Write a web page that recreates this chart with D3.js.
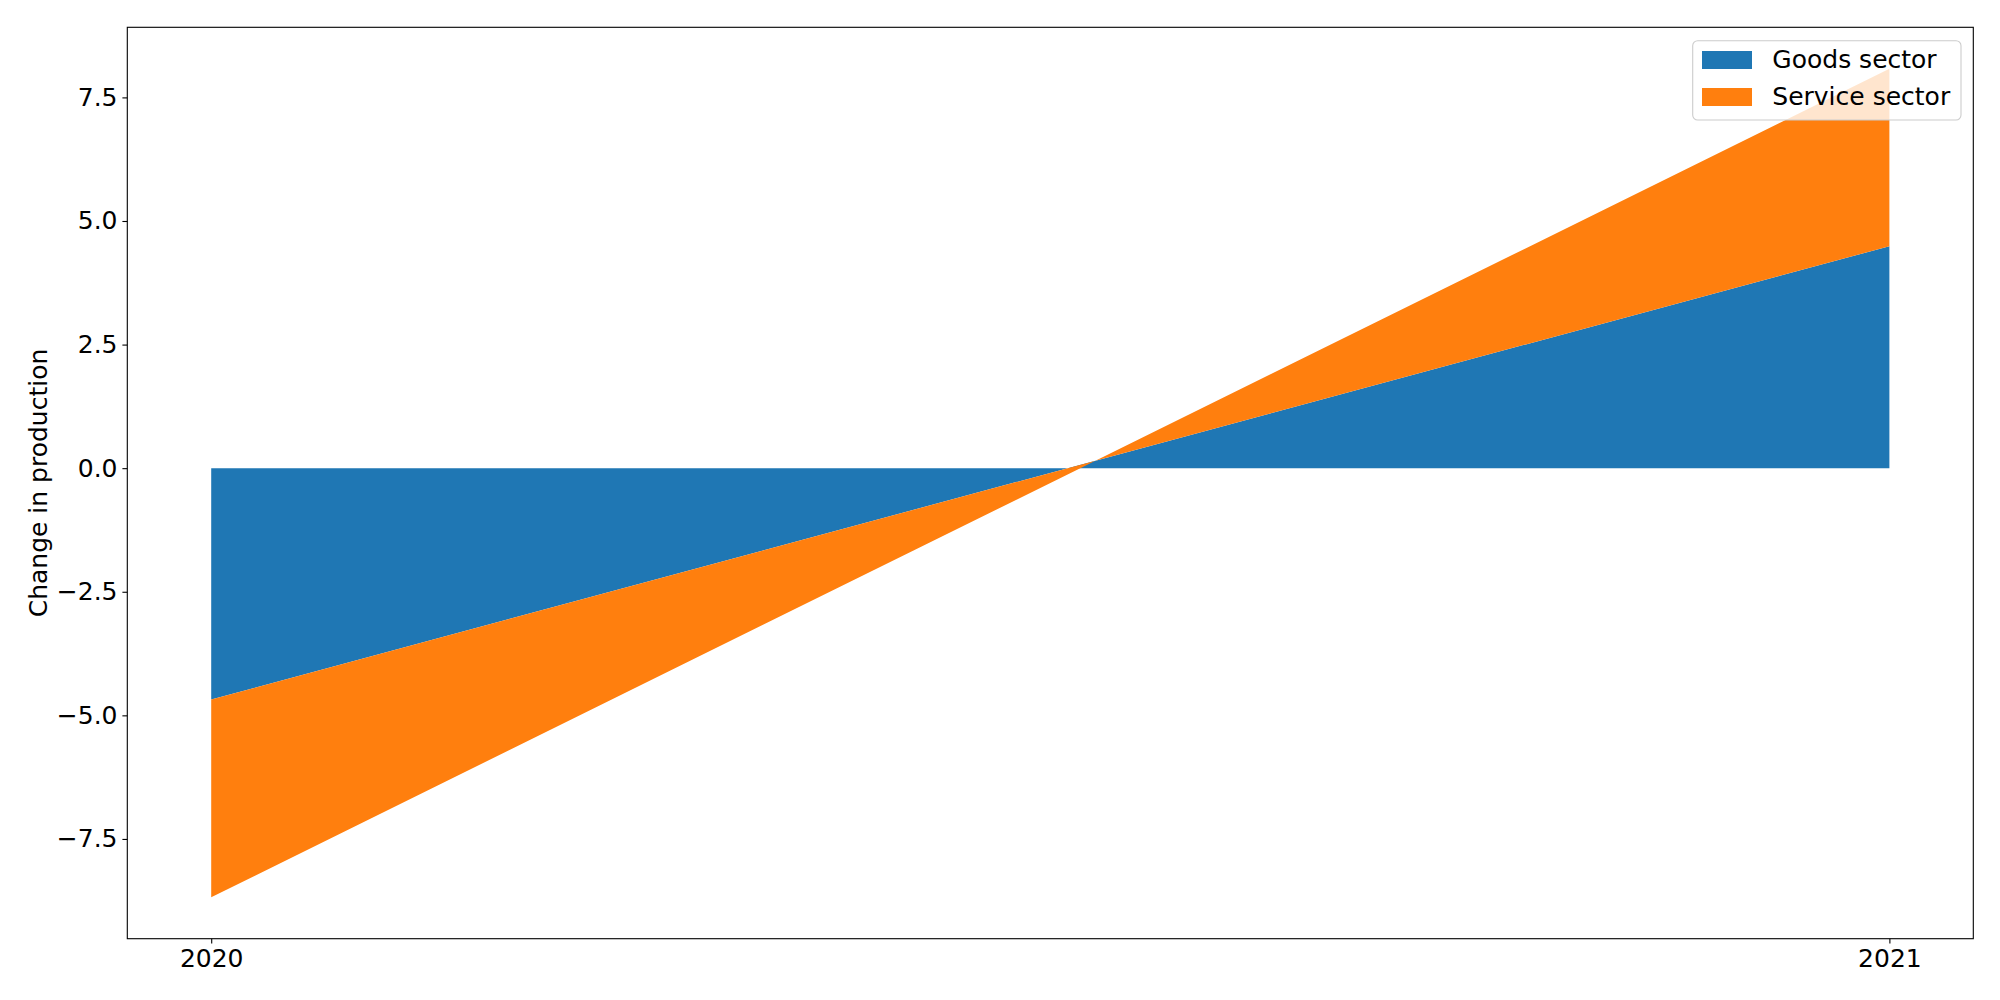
<!DOCTYPE html>
<html><head><meta charset="utf-8">
<script src="https://cdn.jsdelivr.net/npm/d3@7"></script>
<style>body{margin:0;background:#fff}text{font-family:"DejaVu Sans",sans-serif}</style>
</head><body><svg id="c" width="2000" height="1000"></svg>
<script>
const years = [2020, 2021];
const seriesNames = ["Goods sector", "Service sector"];
const goods = [-4.68, 4.49];
const service = [-4.0, 3.59];
const colors = ["#1f77b4", "#ff7f0e"];
const yTicks = [-7.5, -5.0, -2.5, 0.0, 2.5, 5.0, 7.5];
const xTicks = [2020, 2021];
const yLabel = "Change in production";

const svg = d3.select("#c");
const L = 127.3, R = 1973.3, T = 27.3, B = 938.7;
const rows = years.map((y, i) => ({year: y, g: goods[i], s: service[i]}));
const stack = d3.stack().keys(["g", "s"]).offset(d3.stackOffsetNone)(rows);
const allVals = stack.flatMap(l => l.flatMap(d => [d[0], d[1]]));
const ymin = d3.min(allVals), ymax = d3.max(allVals), ypad = (ymax - ymin) * 0.05;
const x = d3.scaleLinear().domain([2020 - 0.05, 2021 + 0.05]).range([L, R]);
const y = d3.scaleLinear().domain([ymin - ypad, ymax + ypad]).range([B, T]);

const area = d3.area().x(d => x(d.data.year)).y0(d => y(d[0])).y1(d => y(d[1]));
svg.append("g").selectAll("path").data(stack).join("path")
  .attr("d", area).attr("fill", (d, i) => colors[i]);

const yAxis = d3.axisLeft(y).tickValues(yTicks).tickFormat(d3.format(".1f")).tickSize(4.9).tickPadding(4.9);
const gy = svg.append("g").attr("transform", `translate(${L},0)`).call(yAxis);
const xAxis = d3.axisBottom(x).tickValues(xTicks).tickFormat(d3.format("d")).tickSize(4.9).tickPadding(4.9);
const gx = svg.append("g").attr("transform", `translate(0,${B})`).call(xAxis);
[gx, gy].forEach(g => {
  g.select(".domain").remove();
  g.selectAll("line").attr("stroke", "#000").attr("stroke-width", 1.1);
  g.selectAll("text").attr("font-size", 25).attr("fill", "#000").attr("font-family", "DejaVu Sans");
});
gx.selectAll("text").attr("dy", "0.75em");

svg.append("rect").attr("x", L).attr("y", T).attr("width", R - L).attr("height", B - T)
  .attr("fill", "none").attr("stroke", "#000").attr("stroke-width", 1.1);

svg.append("text").attr("transform", `translate(38,${(T + B) / 2}) rotate(-90)`)
  .attr("text-anchor", "middle").attr("dominant-baseline", "central")
  .attr("font-size", 25).text(yLabel);

const lg = svg.append("g");
lg.append("rect").attr("x", 1692.7).attr("y", 40.7).attr("width", 268.3).attr("height", 79.3)
  .attr("rx", 5).attr("fill", "#fff").attr("fill-opacity", 0.8).attr("stroke", "#cccccc").attr("stroke-width", 1.1);
seriesNames.forEach((n, i) => {
  const yy = 51 + i * 37;
  lg.append("rect").attr("x", 1702).attr("y", yy).attr("width", 50).attr("height", 18).attr("fill", colors[i]);
  lg.append("text").attr("x", 1772.3).attr("y", yy + 17).attr("font-size", 25).text(n);
});
</script></body></html>
